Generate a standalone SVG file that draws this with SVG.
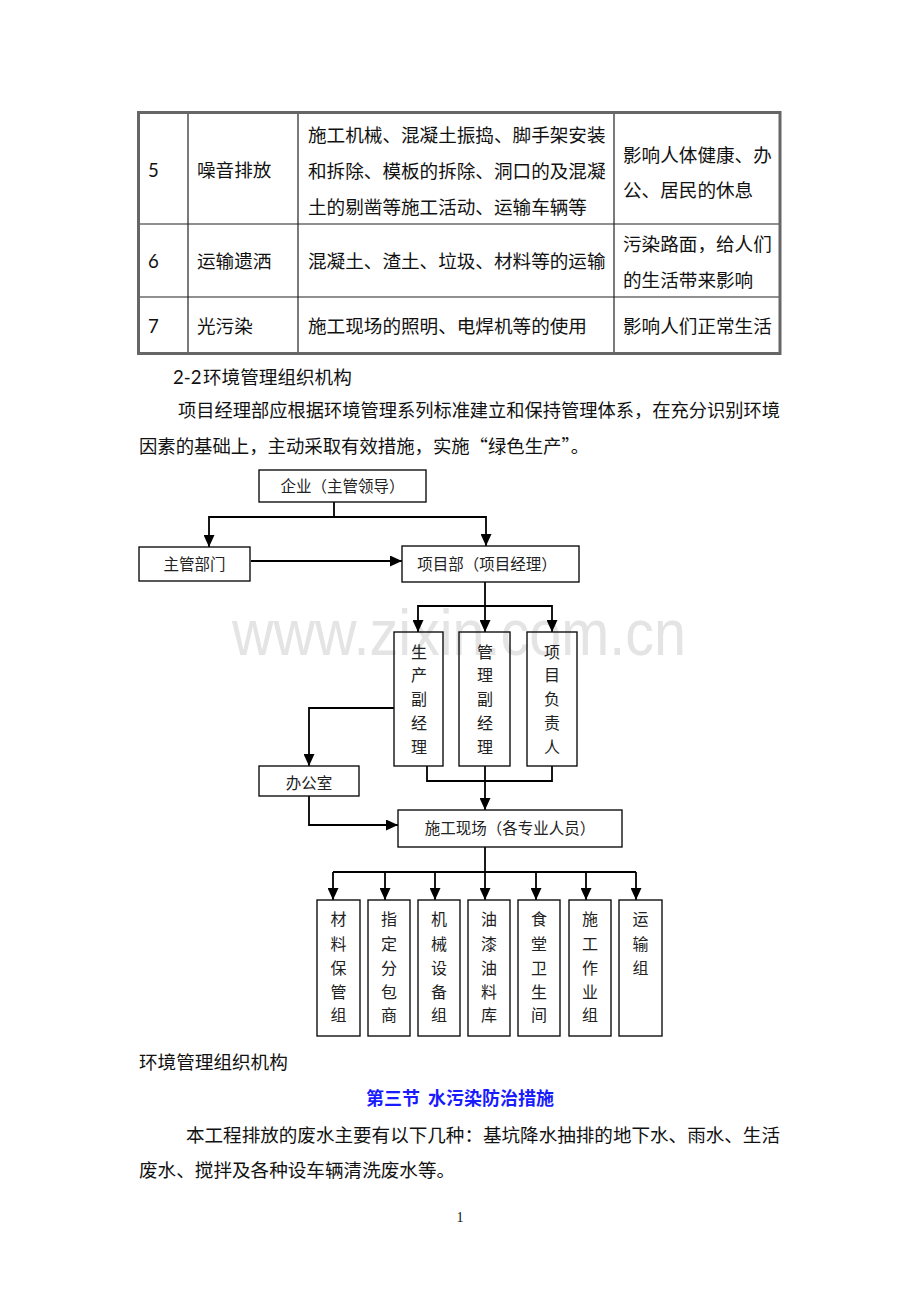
<svg xmlns="http://www.w3.org/2000/svg" width="920" height="1302" viewBox="0 0 920 1302">
<style>
.t{font-family:"Noto Sans CJK SC","Noto Sans",sans-serif;font-size:18.6px;fill:#111}
.d{font-family:"Noto Sans CJK SC","Noto Sans",sans-serif;font-size:15.5px;fill:#222}
.v{font-family:"Noto Sans CJK SC","Noto Sans",sans-serif;font-size:16px;fill:#222;text-anchor:middle}
.n{font-family:Lato,"Noto Sans",sans-serif;font-size:18.6px;fill:#111}
.box{fill:none;stroke:#111;stroke-width:1.4}
.c{fill:none;stroke:#000;stroke-width:1.8}
.ca{fill:none;stroke:#000;stroke-width:1.8;marker-end:url(#ah)}
.thin{stroke:#222;stroke-width:1.2}
</style>
<defs>
<marker id="ah" markerUnits="userSpaceOnUse" markerWidth="12" markerHeight="11" refX="12" refY="5.5" orient="auto">
<path d="M0,0 L12,5.5 L0,11 z" fill="#000"/>
</marker>
</defs>
<rect width="920" height="1302" fill="#fff"/>

<!-- watermark -->
<text x="232" y="655" textLength="454" lengthAdjust="spacingAndGlyphs" font-family="Liberation Sans, sans-serif" font-size="64" fill="#e4e4e4">www.zixin.com.cn</text>

<!-- table -->
<g id="table">
<line class="thin" x1="188" y1="112" x2="188" y2="353"/>
<line class="thin" x1="298" y1="112" x2="298" y2="353"/>
<line class="thin" x1="614" y1="112" x2="614" y2="353"/>
<line class="thin" x1="138" y1="224" x2="780" y2="224"/>
<line class="thin" x1="138" y1="297" x2="780" y2="297"/>
<rect x="138.5" y="112.5" width="641.5" height="241" fill="none" stroke="#666" stroke-width="3"/>
<text class="n" x="148" y="177">5</text>
<text class="t" x="197" y="177">噪音排放</text>
<text class="t" x="308" y="142">施工机械、混凝土振捣、脚手架安装</text>
<text class="t" x="308" y="178">和拆除、模板的拆除、洞口的及混凝</text>
<text class="t" x="308" y="214">土的剔凿等施工活动、运输车辆等</text>
<text class="t" x="623" y="162">影响人体健康、办</text>
<text class="t" x="623" y="197">公、居民的休息</text>
<text class="n" x="148" y="268">6</text>
<text class="t" x="197" y="268">运输遗洒</text>
<text class="t" x="308" y="268">混凝土、渣土、垃圾、材料等的运输</text>
<text class="t" x="623" y="251">污染路面，给人们</text>
<text class="t" x="623" y="287">的生活带来影响</text>
<text class="n" x="148" y="333">7</text>
<text class="t" x="197" y="333">光污染</text>
<text class="t" x="308" y="333">施工现场的照明、电焊机等的使用</text>
<text class="t" x="623" y="333">影响人们正常生活</text>
</g>

<g id="intro">
<text class="n" x="173" y="384">2-2</text>
<text class="t" x="203" y="384">环境管理组织机构</text>
<text class="t" x="178" y="417" textLength="602" lengthAdjust="spacingAndGlyphs">项目经理部应根据环境管理系列标准建立和保持管理体系，在充分识别环境</text>
<text class="t" x="139" y="453" textLength="450" lengthAdjust="spacingAndGlyphs">因素的基础上，主动采取有效措施，实施“绿色生产”。</text>
</g>

<!-- connectors -->
<g id="connectors">
<path class="ca" d="M334,502 V517 H209 V547"/>
<path class="ca" d="M334,517 H486 V546"/>
<path class="ca" d="M251,561 H402"/>
<path class="ca" d="M485,582 V632"/>
<path class="ca" d="M485,606 H418 V632"/>
<path class="ca" d="M485,606 H552 V632"/>
<path class="ca" d="M394,708 H309 V766"/>
<path class="c" d="M427,766 V781 H552 V766"/>
<path class="ca" d="M485,766 V810"/>
<path class="ca" d="M309,796 V825 H398"/>
<path class="c" d="M485,847 V872"/>
<path class="c" d="M333,872 H636"/>
<path class="ca" d="M333,872 V900"/>
<path class="ca" d="M385,872 V900"/>
<path class="ca" d="M435,872 V900"/>
<path class="ca" d="M485,872 V900"/>
<path class="ca" d="M536,872 V900"/>
<path class="ca" d="M586,872 V900"/>
<path class="ca" d="M636,872 V900"/>
</g>

<g id="n-qiye">
<rect class="box" x="259" y="470" width="167" height="32"/>
<text class="d" x="342.5" y="492" text-anchor="middle">企业（主管领导）</text>
</g>
<g id="n-zhuguan">
<rect class="box" x="139" y="547" width="111" height="34"/>
<text class="d" x="194.5" y="570" text-anchor="middle">主管部门</text>
</g>
<g id="n-xiangmubu">
<rect class="box" x="402" y="546" width="177" height="36"/>
<text class="d" x="487" y="570" text-anchor="middle">项目部（项目经理）</text>
</g>
<g id="n-shengchan">
<rect class="box" x="394" y="632" width="49" height="134"/>
<text class="v" x="419" y="658">生</text>
<text class="v" x="419" y="681">产</text>
<text class="v" x="419" y="705">副</text>
<text class="v" x="419" y="729">经</text>
<text class="v" x="419" y="753">理</text>
</g>
<g id="n-guanli">
<rect class="box" x="459" y="632" width="51" height="134"/>
<text class="v" x="485" y="658">管</text>
<text class="v" x="485" y="681">理</text>
<text class="v" x="485" y="705">副</text>
<text class="v" x="485" y="729">经</text>
<text class="v" x="485" y="753">理</text>
</g>
<g id="n-fuzeren">
<rect class="box" x="527" y="632" width="50" height="134"/>
<text class="v" x="552" y="658">项</text>
<text class="v" x="552" y="681">目</text>
<text class="v" x="552" y="705">负</text>
<text class="v" x="552" y="729">责</text>
<text class="v" x="552" y="753">人</text>
</g>
<g id="n-bangongshi">
<rect class="box" x="259" y="766" width="100" height="30"/>
<text class="d" x="309" y="789" text-anchor="middle">办公室</text>
</g>
<g id="n-xianchang">
<rect class="box" x="398" y="810" width="224" height="37"/>
<text class="d" x="510" y="834" text-anchor="middle">施工现场（各专业人员）</text>
</g>

<g id="n-cailiao">
<rect class="box" x="317" y="900" width="43" height="136"/>
<text class="v" x="338.5" y="925">材</text>
<text class="v" x="338.5" y="950">料</text>
<text class="v" x="338.5" y="974">保</text>
<text class="v" x="338.5" y="998">管</text>
<text class="v" x="338.5" y="1021">组</text>
</g>
<g id="n-fenbao">
<rect class="box" x="368" y="900" width="42" height="136"/>
<text class="v" x="389" y="925">指</text>
<text class="v" x="389" y="950">定</text>
<text class="v" x="389" y="974">分</text>
<text class="v" x="389" y="998">包</text>
<text class="v" x="389" y="1021">商</text>
</g>
<g id="n-jixie">
<rect class="box" x="418" y="900" width="42" height="136"/>
<text class="v" x="439" y="925">机</text>
<text class="v" x="439" y="950">械</text>
<text class="v" x="439" y="974">设</text>
<text class="v" x="439" y="998">备</text>
<text class="v" x="439" y="1021">组</text>
</g>
<g id="n-youqi">
<rect class="box" x="468" y="900" width="42" height="136"/>
<text class="v" x="489" y="925">油</text>
<text class="v" x="489" y="950">漆</text>
<text class="v" x="489" y="974">油</text>
<text class="v" x="489" y="998">料</text>
<text class="v" x="489" y="1021">库</text>
</g>
<g id="n-shitang">
<rect class="box" x="518" y="900" width="42" height="136"/>
<text class="v" x="539" y="925">食</text>
<text class="v" x="539" y="950">堂</text>
<text class="v" x="539" y="974">卫</text>
<text class="v" x="539" y="998">生</text>
<text class="v" x="539" y="1021">间</text>
</g>
<g id="n-shigong">
<rect class="box" x="569" y="900" width="42" height="136"/>
<text class="v" x="590" y="925">施</text>
<text class="v" x="590" y="950">工</text>
<text class="v" x="590" y="974">作</text>
<text class="v" x="590" y="998">业</text>
<text class="v" x="590" y="1021">组</text>
</g>
<g id="n-yunshu">
<rect class="box" x="619" y="900" width="43" height="136"/>
<text class="v" x="640.5" y="925">运</text>
<text class="v" x="640.5" y="950">输</text>
<text class="v" x="640.5" y="974">组</text>
</g>

<g id="footer-text">
<text class="t" x="139" y="1069">环境管理组织机构</text>
<text x="460" y="1105" text-anchor="middle" font-family="Noto Sans CJK SC, sans-serif" font-size="18" font-weight="bold" fill="#1a1aff">第三节&#160;&#160;水污染防治措施</text>
<text class="t" x="186" y="1142" textLength="594" lengthAdjust="spacingAndGlyphs">本工程排放的废水主要有以下几种：基坑降水抽排的地下水、雨水、生活</text>
<text class="t" x="139" y="1177">废水、搅拌及各种设车辆清洗废水等。</text>
<text x="460" y="1222" text-anchor="middle" font-family="Liberation Serif, serif" font-size="14" fill="#111">1</text>
</g>
</svg>
